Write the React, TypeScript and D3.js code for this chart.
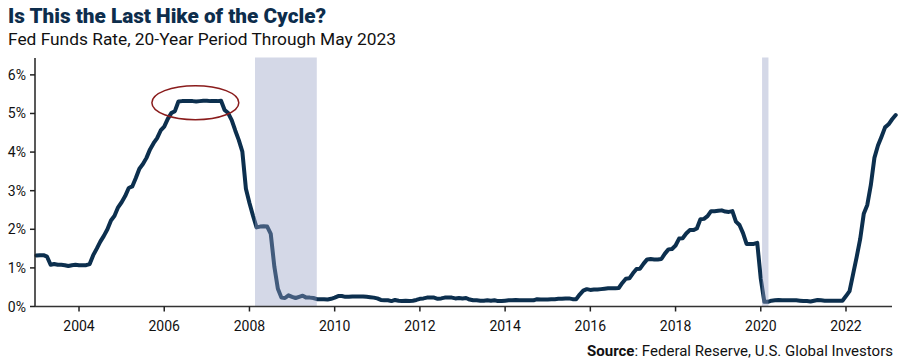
import React from 'react';
import * as d3 from 'd3';

// effective fed funds rate, monthly, as plotted (first point at 2003.0)
const startYear = 2003;
const fedFunds = [
  1.32, 1.33, 1.33, 1.29, 1.08, 1.10, 1.08, 1.08, 1.07, 1.05, 1.07, 1.08,
  1.07, 1.07, 1.07, 1.10, 1.33, 1.50, 1.68, 1.83, 2.00, 2.23, 2.35, 2.57,
  2.70, 2.86, 3.07, 3.11, 3.33, 3.57, 3.69, 3.85, 4.07, 4.23, 4.36, 4.56,
  4.66, 4.86, 5.01, 5.06, 5.31, 5.32, 5.32, 5.32, 5.32, 5.31, 5.32, 5.33,
  5.33, 5.32, 5.32, 5.32, 5.33, 5.09, 5.01, 4.83, 4.56, 4.31, 4.01, 3.05,
  2.68, 2.35, 2.05, 2.07, 2.08, 2.07, 1.88, 1.04, 0.46, 0.23, 0.22, 0.29,
  0.25, 0.22, 0.25, 0.28, 0.23, 0.23, 0.22, 0.19, 0.19, 0.19, 0.18, 0.20,
  0.23, 0.27, 0.27, 0.25, 0.25, 0.26, 0.26, 0.26, 0.26, 0.25, 0.24, 0.23,
  0.21, 0.17, 0.16, 0.16, 0.14, 0.17, 0.15, 0.14, 0.15, 0.14, 0.15, 0.17,
  0.20, 0.21, 0.23, 0.23, 0.23, 0.20, 0.21, 0.23, 0.23, 0.23, 0.21, 0.22,
  0.21, 0.22, 0.18, 0.16, 0.16, 0.15, 0.15, 0.16, 0.15, 0.16, 0.14, 0.14,
  0.15, 0.16, 0.16, 0.17, 0.16, 0.16, 0.16, 0.16, 0.16, 0.19, 0.18, 0.18,
  0.18, 0.19, 0.19, 0.20, 0.20, 0.21, 0.21, 0.19, 0.19, 0.31, 0.41, 0.45,
  0.43, 0.44, 0.44, 0.45, 0.46, 0.47, 0.47, 0.47, 0.48, 0.61, 0.72, 0.73,
  0.86, 0.97, 0.98, 1.11, 1.22, 1.23, 1.22, 1.22, 1.23, 1.37, 1.48, 1.49,
  1.58, 1.76, 1.77, 1.89, 1.98, 1.98, 2.02, 2.26, 2.27, 2.34, 2.47, 2.47,
  2.48, 2.49, 2.46, 2.45, 2.47, 2.20, 2.11, 1.90, 1.62, 1.62, 1.62, 1.65,
  0.72, 0.12, 0.12, 0.15, 0.16, 0.17, 0.16, 0.16, 0.16, 0.16, 0.16, 0.15,
  0.14, 0.14, 0.13, 0.15, 0.17, 0.16, 0.15, 0.15, 0.15, 0.15, 0.15, 0.15,
  0.27, 0.40, 0.84, 1.28, 1.75, 2.40, 2.63, 3.15, 3.85, 4.17, 4.40, 4.64,
  4.72, 4.85, 4.96,
];

const recessions = [
  [2008.13, 2009.58],
  [2020.03, 2020.18],
];

const xTicks = [2004, 2006, 2008, 2010, 2012, 2014, 2016, 2018, 2020, 2022];
const yTicks = [0, 1, 2, 3, 4, 5, 6];

// circled plateau (years / percent)
const highlight = { x0: 2005.71, x1: 2007.75, y0: 4.84, y1: 5.72 };

const width = 900;
const height = 362;
const font = 'Roboto, "Liberation Sans", Arial, sans-serif';

export default function App() {
  const x = d3.scaleLinear().domain([2002.967, 2023.15]).range([35, 895]);
  const y = d3.scaleLinear().domain([0, 6.45]).range([306.5, 57.5]);

  const points: [number, number][] = fedFunds.map((v, i) => [startYear + i / 12, v]);
  const line = d3.line<[number, number]>()
    .x(d => x(d[0]))
    .y(d => y(d[1]))
    .curve(d3.curveLinear);

  const x0 = 35;
  const x1 = 892;
  const y0 = y(0);

  return (
    <svg width={width} height={height} style={{ display: 'block', position: 'absolute', left: 0, top: 0 }}>
      <rect width={width} height={height} fill="#fff" />

      <text x={8} y={23} fontFamily={font} fontWeight={900} fontSize={20} fill="#0d2d4c"
        textLength={318} lengthAdjust="spacingAndGlyphs">Is This the Last Hike of the Cycle?</text>
      <text x={8} y={45} fontFamily={font} fontSize={17} fill="#111"
        textLength={388} lengthAdjust="spacingAndGlyphs">Fed Funds Rate, 20-Year Period Through May 2023</text>

      <path d={line(points) || ''} fill="none" stroke="#0c2f4e" strokeWidth={4}
        strokeLinejoin="round" strokeLinecap="round" />

      {recessions.map(([a, b], i) => (
        <rect key={i} x={x(a)} y={y(6.45)} width={x(b) - x(a)} height={y(0) - y(6.45)}
          fill="rgb(147,157,195)" fillOpacity={0.4} />
      ))}

      <ellipse cx={(x(highlight.x0) + x(highlight.x1)) / 2} cy={(y(highlight.y0) + y(highlight.y1)) / 2}
        rx={(x(highlight.x1) - x(highlight.x0)) / 2} ry={(y(highlight.y0) - y(highlight.y1)) / 2}
        fill="none" stroke="#8a1c1c" strokeWidth={1.5} />

      {/* axes */}
      <line x1={x0} x2={x0} y1={58} y2={y0} stroke="#222" strokeWidth={1.5} />
      <line x1={x0} x2={x1} y1={y0} y2={y0} stroke="#333" strokeWidth={1.5} />
      {yTicks.map(t => (
        <g key={t}>
          <line x1={x0 - 5} x2={x0} y1={y(t)} y2={y(t)} stroke="#222" strokeWidth={1.5} />
          <text x={26} y={y(t) + 5} textAnchor="end" fontFamily={font} fontSize={14} fill="#111">{t}%</text>
        </g>
      ))}
      {xTicks.map(t => (
        <g key={t}>
          <line x1={x(t)} x2={x(t)} y1={y0} y2={y0 + 5} stroke="#222" strokeWidth={1.5} />
          <text x={x(t)} y={y0 + 24} textAnchor="middle" fontFamily={font} fontSize={14} fill="#111">{t}</text>
        </g>
      ))}

      <text x={893} y={356} textAnchor="end" fontFamily={font} fontSize={14.5} fill="#111"
        textLength={306} lengthAdjust="spacingAndGlyphs">
        <tspan fontWeight={700}>Source</tspan>: Federal Reserve, U.S. Global Investors
      </text>
    </svg>
  );
}
